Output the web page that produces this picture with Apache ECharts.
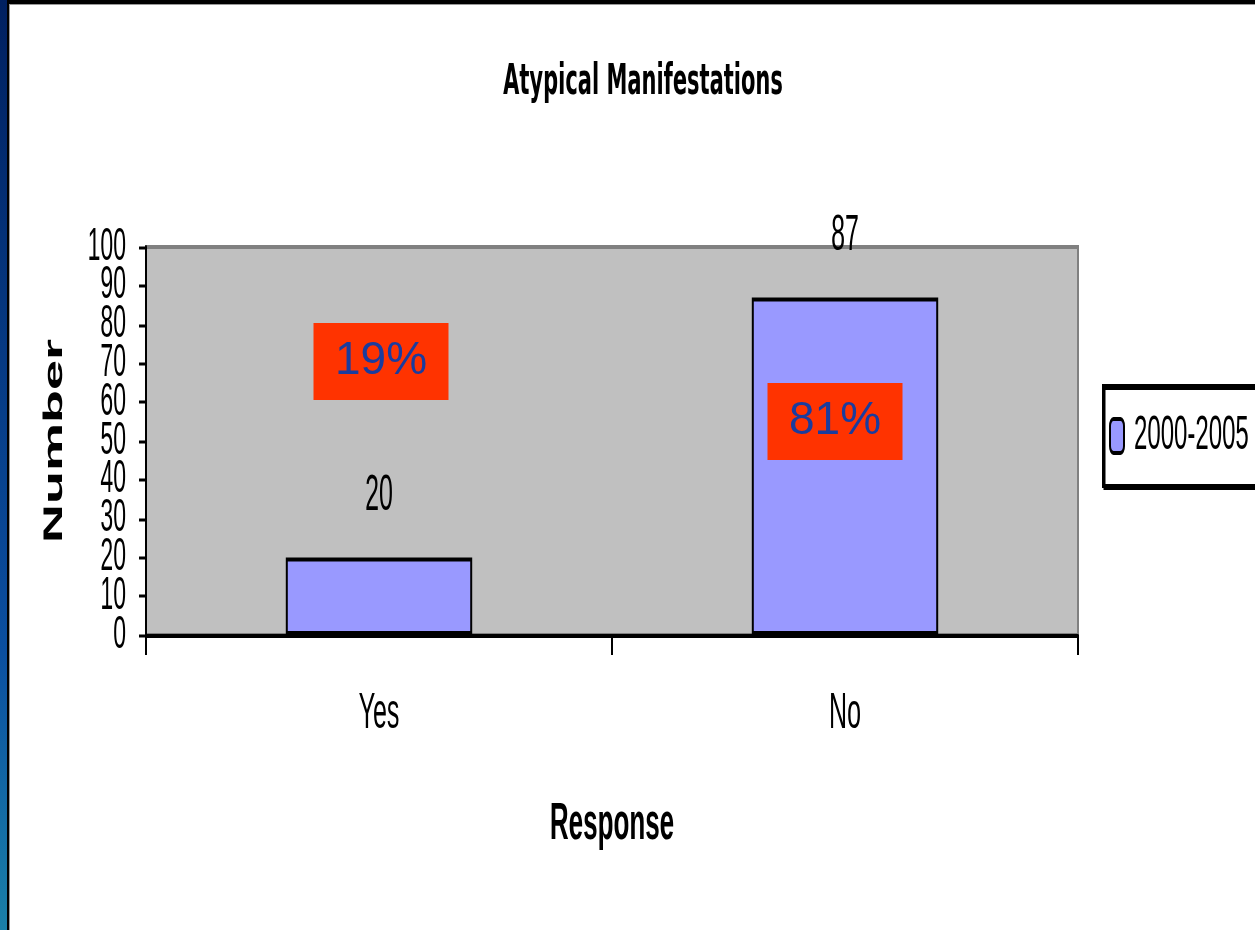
<!DOCTYPE html>
<html>
<head>
<meta charset="utf-8">
<title>Atypical Manifestations</title>
<script src="https://cdn.jsdelivr.net/npm/echarts@6/dist/echarts.min.js"></script>
<style>
	html, body { margin:0; padding:0; width:1255px; height:930px; overflow:hidden; background:#FFFFFF; }
	/* 原图整体被纵向拉伸约2倍，这里同样拉伸 */
	#main { position:absolute; left:0; top:0; width:1300px; height:465px; transform:scaleY(2); transform-origin:0 0; }
	#overlay { position:absolute; left:0; top:0; width:1300px; height:930px; }
	.leftBar { position:absolute; left:0; top:0; width:7px; height:930px; background:linear-gradient(#002060, #0B4FA0 70%, #1A80A8); z-index:2; }
	.leftLine { position:absolute; left:7px; top:0; width:2px; height:930px; background:#000000; z-index:2; }
	.leftGray { position:absolute; left:9px; top:4px; width:1px; height:926px; background:#999999; z-index:2; }
	.topLine { position:absolute; left:7px; top:0; width:1248px; height:4px; background:#000000; z-index:2; }
	.topGray { position:absolute; left:9px; top:4px; width:1246px; height:1px; background:#999999; z-index:2; }
</style>
</head>
<body>
<div class="leftBar"></div>
<div class="leftLine"></div>
<div class="leftGray"></div>
<div class="topLine"></div>
<div class="topGray"></div>
<div id="main"></div>
<div id="overlay"></div>
<script>
	// 数据
	var categories = ['Yes', 'No'];
	var seriesName = '2000-2005';
	var values = [20, 87];
	// 百分比标注
	var pctText = ['19%', '81%'];
	var pctCat = ['Yes', 'No'];
	var pctY = [70.5, 55];
	var yTicks = { min: 0, max: 100, interval: 10 };

	var sans = "'Liberation Sans', Arial, sans-serif";

	// y轴刻度文字（标签互相重叠，分两条轴画，避免被自动隐藏）
	function yLabelStyle(even){
		return {
			margin: 20,
			showMinLabel: true,
			showMaxLabel: true,
			fontFamily: sans,
			fontSize: 23,
			color: '#000000',
			formatter: function(v){
				return ((v / yTicks.interval) % 2 == 0) == even ? String(v) : '';
			}
		};
	}

	// 主图（纵向拉伸前的坐标）
	var option = {
		animation: false,
		title: {
			text: 'Atypical Manifestations',
			left: 638,
			top: 26,
			textAlign: 'center',
			textStyle: {
				fontFamily: "'DejaVu Sans', sans-serif",
				fontWeight: 'bold',
				fontSize: 21,
				color: '#000000'
			}
		},
		legend: {
			data: [seriesName],
			left: 1103,
			top: 193,
			orient: 'vertical',
			padding: [13, 14, 13, 6],
			itemWidth: 14,
			itemHeight: 17,
			itemGap: 0,
			backgroundColor: '#FFFFFF',
			borderColor: '#000000',
			borderWidth: 2,
			shadowColor: '#000000',
			shadowBlur: 0,
			shadowOffsetX: 1.5,
			shadowOffsetY: 1,
			itemStyle: {
				borderColor: '#000000',
				borderWidth: 2
			},
			textStyle: {
				fontFamily: sans,
				fontSize: 24,
				color: '#000000',
				padding: [0, 0, 0, 5]
			}
		},
		grid: {
			left: 146,
			right: 222,
			top: 123.5,
			bottom: 147.5,
			show: true,
			backgroundColor: '#C0C0C0',
			borderColor: '#808080',
			borderWidth: 2
		},
		xAxis: {
			type: 'category',
			data: categories,
			name: 'Response',
			nameLocation: 'middle',
			nameGap: 82,
			nameTextStyle: {
				fontFamily: sans,
				fontWeight: 'bold',
				fontSize: 26,
				color: '#000000'
			},
			axisLine: { lineStyle: { color: '#000000', width: 2 } },
			axisTick: { show: true, length: 10, lineStyle: { color: '#000000', width: 2 } },
			axisLabel: {
				margin: 27,
				fontFamily: sans,
				fontSize: 25,
				color: '#000000'
			},
			splitLine: { show: false }
		},
		yAxis: [
			{
				type: 'value',
				position: 'left',
				min: yTicks.min,
				max: yTicks.max,
				interval: yTicks.interval,
				name: 'Number',
				nameLocation: 'middle',
				nameGap: 78,
				nameRotate: 90,
				nameTextStyle: {
					fontFamily: sans,
					fontWeight: 'bold',
					fontSize: 27,
					color: '#000000'
				},
				axisLine: { show: true, lineStyle: { color: '#000000', width: 2 } },
				axisTick: { show: true, length: 7, lineStyle: { color: '#000000', width: 1.5 } },
				axisLabel: yLabelStyle(true),
				splitLine: { show: false }
			},
			{
				type: 'value',
				position: 'left',
				offset: 0,
				min: yTicks.min,
				max: yTicks.max,
				interval: yTicks.interval,
				axisLine: { show: false },
				axisTick: { show: false },
				axisLabel: yLabelStyle(false),
				splitLine: { show: false }
			}
		],
		series: [
			{
				name: seriesName,
				type: 'bar',
				yAxisIndex: 0,
				barWidth: '40%',
				data: values,
				itemStyle: {
					color: '#9999FF',
					borderColor: '#000000',
					borderWidth: 2
				},
				label: {
					show: true,
					position: 'top',
					distance: 18,
					fontFamily: sans,
					fontSize: 25,
					color: '#000000'
				}
			}
		]
	};
	echarts.init(document.getElementById('main'), null, { devicePixelRatio: 2 }).setOption(option);

	// 百分比标注（不拉伸），坐标轴与主图一致但不显示
	var overlayOption = {
		animation: false,
		grid: {
			left: 146,
			right: 222,
			top: 247,
			bottom: 295
		},
		xAxis: {
			type: 'category',
			data: categories,
			show: false
		},
		yAxis: {
			type: 'value',
			min: yTicks.min,
			max: yTicks.max,
			interval: yTicks.interval,
			show: false
		},
		series: [
			{
				type: 'scatter',
				silent: true,
				symbol: 'rect',
				symbolSize: [135, 77],
				itemStyle: { color: '#FF3300', opacity: 1 },
				label: {
					show: true,
					position: 'inside',
					fontFamily: sans,
					fontSize: 46,
					color: '#1A3C9E',
					formatter: function(p){
						return pctText[p.dataIndex];
					}
				},
				data: pctText.map(function(t, i){
					return {
						value: [pctCat[i], pctY[i]],
						symbolOffset: i == 1 ? [-10, 0] : [2, 0]
					};
				})
			}
		]
	};
	echarts.init(document.getElementById('overlay')).setOption(overlayOption);
</script>
</body>
</html>
